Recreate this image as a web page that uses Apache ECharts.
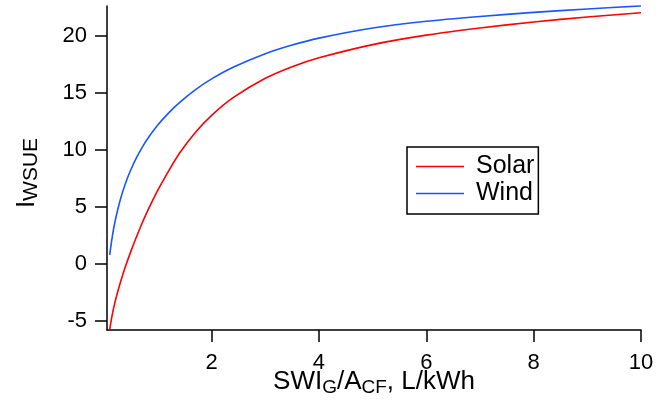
<!DOCTYPE html>
<html>
<head>
<meta charset="utf-8">
<script src="https://cdn.jsdelivr.net/npm/echarts@6/dist/echarts.min.js"></script>
<style>html,body{margin:0;padding:0;background:#fff}#c{width:670px;height:402px}</style>
</head>
<body>
<div id="c"></div>
<script>
const xValues = [0.1, 0.15, 0.2, 0.3, 0.4, 0.5, 0.6, 0.7, 0.8, 1.0, 1.2, 1.4, 1.7, 2.0, 2.4, 3.0, 3.5, 4.0, 5.0, 6.0, 7.0, 8.0, 9.0, 10.0];
const solar = [-5.75, -4.40, -3.33, -1.61, -0.14, 1.17, 2.39, 3.53, 4.59, 6.50, 8.18, 9.72, 11.57, 13.05, 14.60, 16.30, 17.32, 18.10, 19.26, 20.09, 20.72, 21.25, 21.69, 22.06];
const wind = [0.79, 2.45, 3.73, 5.68, 7.16, 8.34, 9.33, 10.19, 10.95, 12.22, 13.27, 14.17, 15.31, 16.25, 17.27, 18.46, 19.22, 19.83, 20.72, 21.31, 21.73, 22.09, 22.39, 22.66];
const xTicks = [2, 4, 6, 8, 10];
const yTicks = [-5, 0, 5, 10, 15, 20];
const seriesNames = ['Solar', 'Wind'];

const FONT = 'Liberation Sans, Arial, sans-serif';
const chart = echarts.init(document.getElementById('c'), null, {renderer: 'canvas'});
const pair = (xs, ys) => xs.map((x, i) => [x, ys[i]]);
chart.setOption({
  animation: false,
  backgroundColor: '#fff',
  grid: {left: 107, right: 29, top: 6, bottom: 72, outerBoundsMode: 'none', containLabel: false},
  legend: {
    left: 407, top: 147,
    orient: 'vertical',
    data: seriesNames,
    icon: 'rect',
    itemWidth: 48, itemHeight: 1.6, itemGap: 0,
    padding: [6, 4, 7, 9],
    borderColor: '#000', borderWidth: 1.5,
    textStyle: {fontFamily: FONT, fontSize: 25, color: '#000', lineHeight: 27, padding: [0, 0, 0, 7]}
  },
  xAxis: {
    type: 'value', min: 0.05, max: 10,
    splitLine: {show: false},
    axisLine: {onZero: false, lineStyle: {color: '#000', width: 1.5}},
    axisTick: {inside: false, length: 12, lineStyle: {color: '#000', width: 1.5}, customValues: xTicks},
    axisLabel: {customValues: xTicks, margin: 22, fontFamily: FONT, fontSize: 22, color: '#000'},
    name: '{m|SWI}{s|G}{m|/A}{s|CF}{m|, L/kWh}',
    nameLocation: 'middle', nameGap: 37, nameMoveOverlap: false,
    nameTextStyle: {
      backgroundColor: '#fff',
      rich: {
        m: {fontFamily: FONT, fontSize: 26, color: '#000', lineHeight: 30},
        s: {fontFamily: FONT, fontSize: 19, color: '#000', verticalAlign: 'bottom', lineHeight: 19}
      }
    }
  },
  yAxis: {
    type: 'value', min: -5.8, max: 22.65,
    splitLine: {show: false},
    axisLine: {onZero: false, lineStyle: {color: '#000', width: 1.5}},
    axisTick: {inside: false, length: 12, lineStyle: {color: '#000', width: 1.5}, customValues: yTicks},
    axisLabel: {customValues: yTicks, margin: 20, fontFamily: FONT, fontSize: 22, color: '#000'},
    name: '{m|I}{s|WSUE}',
    nameLocation: 'middle', nameGap: 65, nameMoveOverlap: false,
    nameTextStyle: {
      padding: [0, 10, 0, 0],
      rich: {
        m: {fontFamily: FONT, fontSize: 26, color: '#000', lineHeight: 30},
        s: {fontFamily: FONT, fontSize: 21, color: '#000', verticalAlign: 'bottom', lineHeight: 21}
      }
    }
  },
  series: [
    {name: seriesNames[0], type: 'line', data: pair(xValues, solar), symbol: 'none', smooth: 0.25,
     lineStyle: {color: '#ff0000', width: 1.6}, itemStyle: {color: '#ff0000'}},
    {name: seriesNames[1], type: 'line', data: pair(xValues, wind), symbol: 'none', smooth: 0.25,
     lineStyle: {color: '#1a56ff', width: 1.6}, itemStyle: {color: '#1a56ff'}}
  ]
});
</script>
</body>
</html>
